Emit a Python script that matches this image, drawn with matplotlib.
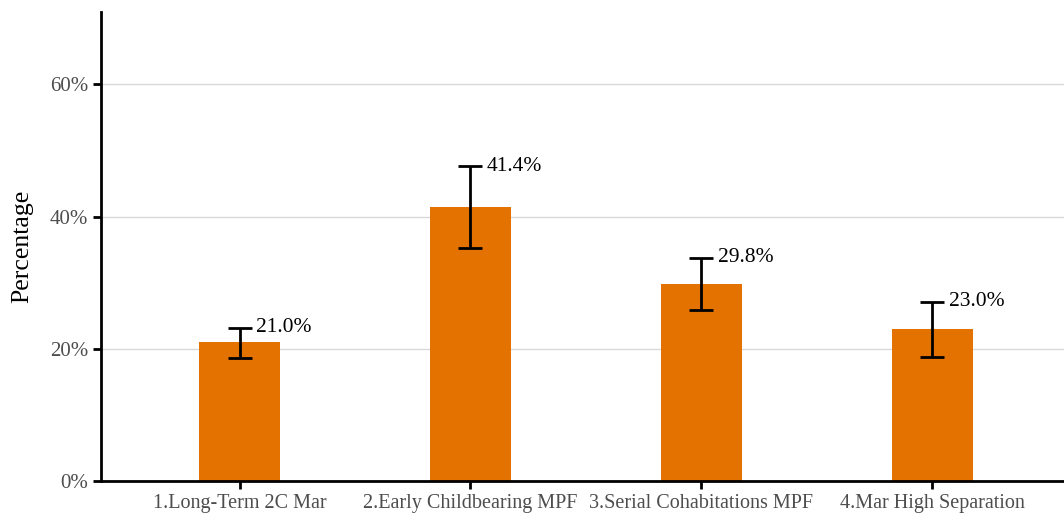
import matplotlib
matplotlib.use("Agg")
import matplotlib.pyplot as plt
from matplotlib.ticker import FuncFormatter

plt.rcParams['font.family'] = ['Liberation Serif', 'DejaVu Serif']

categories = ["1.Long-Term 2C Mar", "2.Early Childbearing MPF",
              "3.Serial Cohabitations MPF", "4.Mar High Separation"]
pct = [21.0, 41.4, 29.8, 23.0]
ci_low = [18.6, 35.3, 25.8, 18.8]
ci_high = [23.2, 47.6, 33.8, 27.1]

bar_color = "#E37200"

fig = plt.figure(figsize=(10.64, 5.18), dpi=100)
ax = fig.add_axes([0.0949, 0.0714, 0.905, 0.906])

x = list(range(1, len(categories) + 1))
ax.bar(x, pct, width=0.35, color=bar_color, zorder=2)
yerr = [[p - lo for p, lo in zip(pct, ci_low)],
        [hi - p for p, hi in zip(pct, ci_high)]]
ax.errorbar(x, pct, yerr=yerr, fmt="none", ecolor="black", elinewidth=2,
            capsize=8.5, capthick=2, zorder=3)
for xi, p, hi in zip(x, pct, ci_high):
    ax.text(xi + 0.072, hi, f"{p:.1f}%", ha="left", va="center",
            fontsize=15.5, color="black", zorder=4)

ax.set_xlim(0.4, 4.57)
ax.set_ylim(0, 71)
ax.set_yticks([0, 20, 40, 60])
ax.yaxis.set_major_formatter(FuncFormatter(lambda v, _: f"{v:.0f}%"))
ax.set_xticks(x)
ax.set_xticklabels(categories)
ax.grid(axis="y", color="#D9D9D9", linewidth=1, zorder=0)
ax.set_axisbelow(True)

for side in ["top", "right"]:
    ax.spines[side].set_visible(False)
for side in ["left", "bottom"]:
    ax.spines[side].set_linewidth(2)
    ax.spines[side].set_color("black")

ax.tick_params(axis="both", length=6, width=2, color="black",
               labelcolor="#4D4D4D", pad=3)
ax.tick_params(axis="y", labelsize=15)
ax.tick_params(axis="x", labelsize=14.5)
ax.set_ylabel("Percentage", fontsize=18.5, color="black", labelpad=12)

fig.savefig("out.png", dpi=100)
